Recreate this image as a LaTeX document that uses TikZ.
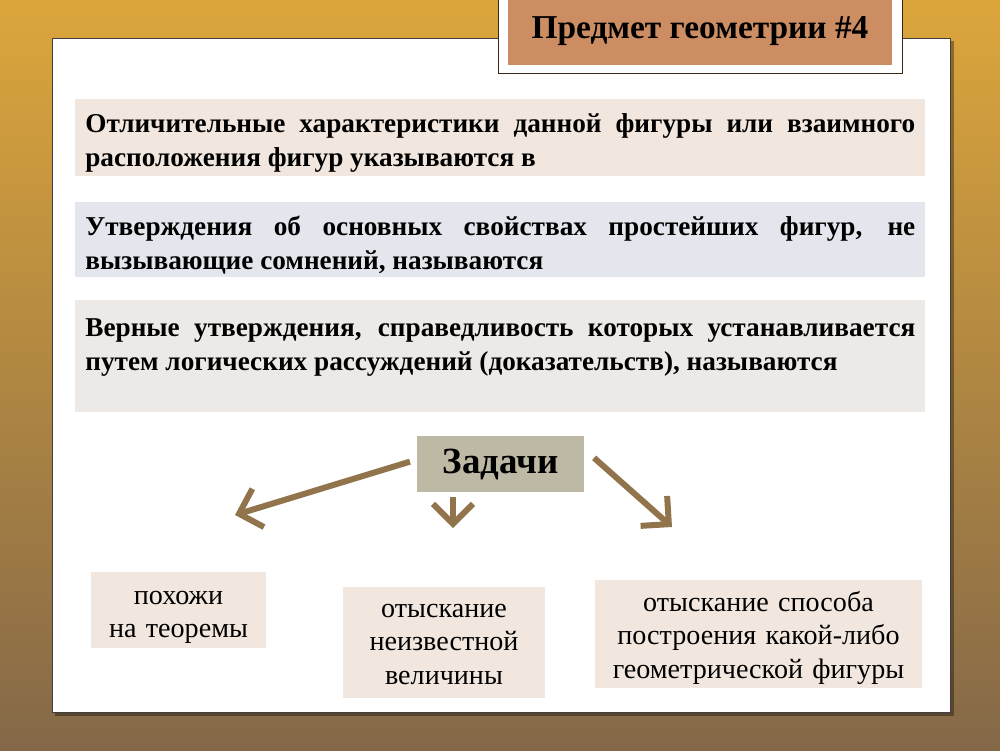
\documentclass[tikz,border=0pt]{standalone}
\usepackage{fontspec}
\setmainfont{Liberation Serif}
\usetikzlibrary{arrows.meta,positioning}
\definecolor{bgtop}{RGB}{220,166,60}
\definecolor{bgmid}{RGB}{196,152,86}
\definecolor{bgbot}{RGB}{132,104,72}
\definecolor{titlefill}{RGB}{205,141,99}
\definecolor{peach}{RGB}{242,231,223}
\definecolor{bluegray}{RGB}{227,231,237}
\definecolor{warmgray}{RGB}{237,233,230}
\definecolor{khaki}{RGB}{190,185,165}
\definecolor{arrbrown}{RGB}{146,116,76}
\def\boldtext{\fontsize{15.5}{19.5}\selectfont\bfseries}
\def\plaintext{\fontsize{16}{19}\selectfont}

\begin{document}
\begin{tikzpicture}[x=0.2mm,y=-0.2mm,
		infobox/.style={anchor=north west, text width=166mm, inner xsep=2mm, align=justify, text height=4mm, font=\boldtext},
		taskbox/.style={anchor=north, fill=peach, align=center, font=\plaintext, inner xsep=0pt, text height=4mm},
		arr/.style={draw=arrbrown, line width=1.2mm, -{Straight Barb[length=4mm,width=8mm]}}]
	\useasboundingbox (0,0) rectangle (1000,750);
	\shade[top color=bgtop, middle color=bgmid, bottom color=bgbot] (0,0) rectangle (1000,750);
	\fill[black, opacity=0.35] (55,41) rectangle (954,716);
	\filldraw[fill=white, draw=black!75, line width=0.4pt] (52,38) rectangle (950,712);
	\node[draw=black!70!brown, fill=white, minimum width=80.8mm, minimum height=16.6mm, inner sep=0pt] (frame) at (700,32) {};
	\node[fill=titlefill, minimum width=76.8mm, minimum height=14mm, text height=5mm, text depth=1.5mm, font=\fontsize{19}{22}\selectfont\bfseries] (title) at (700,30) {Предмет геометрии \#4};
	\node[infobox, fill=peach, inner ysep=2.6mm, text depth=6.2mm] (def) at (75,99)
		{Отличительные характеристики данной фигуры или взаимного\linebreak расположения фигур указываются в};
	\node[infobox, fill=bluegray, inner ysep=2.6mm, text depth=5.8mm] (ax) at (75,202)
		{Утверждения об основных свойствах простейших фигур, не\linebreak вызывающие сомнений, называются};
	\node[infobox, fill=warmgray, inner ysep=3.2mm, text depth=12mm] (thm) at (75,300)
		{Верные утверждения, справедливость которых устанавливается\linebreak путем логических рассуждений (доказательств), называются};
	\node[fill=khaki, minimum width=33.4mm, minimum height=11.2mm, font=\fontsize{21}{24}\selectfont\bfseries] (zad) at (500.5,464) {Задачи};
	\node[taskbox, text width=35mm, inner ysep=2.4mm, text depth=6.4mm] (pohozhi) at (178.5,572) {похожи\\на теоремы};
	\node[taskbox, text width=40.4mm, inner ysep=2mm, text depth=14.2mm] (velich) at (444,587) {отыскание\\неизвестной\\величины};
	\node[taskbox, text width=65.4mm, inner ysep=2.2mm, text depth=13.2mm] (postr) at (758.5,580) {отыскание способа\\построения какой-либо\\геометрической фигуры};
	\coordinate (lEnd) at (235,515);
	\coordinate (mEnd) at (453,528);
	\coordinate (rEnd) at (672,527);
	\draw[arr, shorten <=1.4mm] (zad.177) -- (lEnd);
	\draw[arr, shorten <=1mm] (zad.south -| mEnd) -- (mEnd);
	\draw[arr, shorten <=2.6mm] (zad.10) -- (rEnd);
\end{tikzpicture}
\end{document}
